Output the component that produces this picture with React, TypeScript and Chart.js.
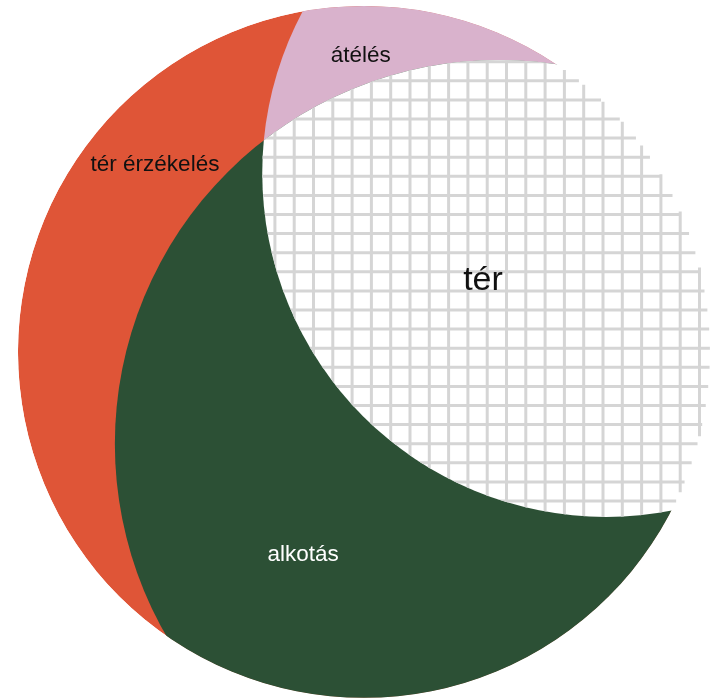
import React, { useEffect, useRef } from "react";
import { Chart, registerables } from "chart.js";

Chart.register(...registerables);

// Circles of the diagram (units: outer circle radius = 100, centre at 0,0)
const categories = ["tér érzékelés", "átélés", "alkotás"];
const centerX = [0, 70, 39];
const centerY = [0, 51.7, -26.6];
const radii = [100, 99.4, 111];
const colors = ["#DF5537", "#D9B2CC", "#2C5035"];
const labelColors = ["#111111", "#111111", "#FFFFFF"];

// Overlap of "átélés" and "alkotás"
const overlapLabel = "tér";

// Label anchor points (same units)
const labelX = [-60.4, -0.9, -17.6];
const labelY = [52.2, 83.7, -60.3];
const overlapLabelX = 34.4;
const overlapLabelY = 17.8;

// axis ranges
const xRange = [-105.2, 100.6];
const yRange = [-100.6, 101.7];

const GRID_COLOR = "#D5D5D5";
const GRID_X0 = 410;
const GRID_Y0 = 252.7;
const GRID_DX = 19.3;
const GRID_DY = 19.1;
const FONT = "'Liberation Sans', Arial, Helvetica, sans-serif";

function circleGeom(chart: any, i: number) {
  const xs = chart.scales.x;
  const ys = chart.scales.y;
  const cx = xs.getPixelForValue(centerX[i]);
  const cy = ys.getPixelForValue(centerY[i]);
  const r = Math.abs(xs.getPixelForValue(radii[i]) - xs.getPixelForValue(0));
  return { cx, cy, r };
}

function circlePath(chart: any, i: number) {
  const { ctx } = chart;
  const { cx, cy, r } = circleGeom(chart, i);
  ctx.beginPath();
  ctx.arc(cx, cy, r, 0, Math.PI * 2);
  ctx.closePath();
}

const vennPlugin = {
  id: "venn",
  afterDatasetsDraw(chart: any) {
    const { ctx, width, height, scales } = chart;
    ctx.save();
    circlePath(chart, 0);
    ctx.clip();
    categories.forEach((_, i) => {
      circlePath(chart, i);
      ctx.fillStyle = colors[i];
      ctx.fill();
    });
    ctx.restore();

    // intersection of átélés and alkotás -> grid
    const outer = circleGeom(chart, 0);
    ctx.save();
    circlePath(chart, 1);
    ctx.clip();
    circlePath(chart, 2);
    ctx.clip();
    ctx.fillStyle = "#FFFFFF";
    ctx.fillRect(0, 0, width, height);
    ctx.strokeStyle = GRID_COLOR;
    ctx.lineWidth = 3;
    ctx.lineCap = "butt";
    ctx.beginPath();
    const kx0 = Math.floor(-GRID_X0 / GRID_DX);
    for (let k = kx0; GRID_X0 + k * GRID_DX <= width + 5; k++) {
      const gx = GRID_X0 + k * GRID_DX;
      const d = outer.r * outer.r - (gx - outer.cx) * (gx - outer.cx);
      if (d <= 0) continue;
      const s = Math.sqrt(d);
      ctx.moveTo(gx, outer.cy - s);
      ctx.lineTo(gx, outer.cy + s);
    }
    const ky0 = Math.floor(-GRID_Y0 / GRID_DY);
    for (let k = ky0; GRID_Y0 + k * GRID_DY <= height + 5; k++) {
      const gy = GRID_Y0 + k * GRID_DY;
      const d = outer.r * outer.r - (gy - outer.cy) * (gy - outer.cy);
      if (d <= 0) continue;
      const s = Math.sqrt(d);
      ctx.moveTo(outer.cx - s, gy);
      ctx.lineTo(outer.cx + s, gy);
    }
    ctx.stroke();
    ctx.restore();

    // labels
    const xs = scales.x;
    const ys = scales.y;
    ctx.save();
    ctx.textAlign = "center";
    ctx.textBaseline = "alphabetic";
    ctx.font = `22.5px ${FONT}`;
    categories.forEach((c, i) => {
      ctx.fillStyle = labelColors[i];
      ctx.fillText(c, xs.getPixelForValue(labelX[i]), ys.getPixelForValue(labelY[i]));
    });
    ctx.font = `34px ${FONT}`;
    ctx.fillStyle = "#111111";
    ctx.fillText(overlapLabel, xs.getPixelForValue(overlapLabelX), ys.getPixelForValue(overlapLabelY));
    ctx.restore();
  },
};

export default function App() {
  const ref = useRef<HTMLCanvasElement | null>(null);
  useEffect(() => {
    if (!ref.current) return;
    const chart = new Chart(ref.current, {
      type: "scatter",
      data: {
        datasets: [
          {
            label: "venn",
            data: categories.map((c, i) => ({ x: centerX[i], y: centerY[i] })),
            pointRadius: 0,
            pointHoverRadius: 0,
            backgroundColor: colors,
          },
        ],
      },
      options: {
        animation: false,
        responsive: true,
        maintainAspectRatio: false,
        events: [],
        layout: { padding: 0 },
        plugins: { legend: { display: false }, tooltip: { enabled: false } },
        scales: {
          x: { type: "linear", min: xRange[0], max: xRange[1], display: false },
          y: { type: "linear", min: yRange[0], max: yRange[1], display: false },
        },
      },
      plugins: [vennPlugin],
    });
    return () => chart.destroy();
  }, []);
  return (
    <div style={{ position: "absolute", left: 0, top: 0, width: 712, height: 700, background: "#fff" }}>
      <canvas ref={ref} />
    </div>
  );
}
